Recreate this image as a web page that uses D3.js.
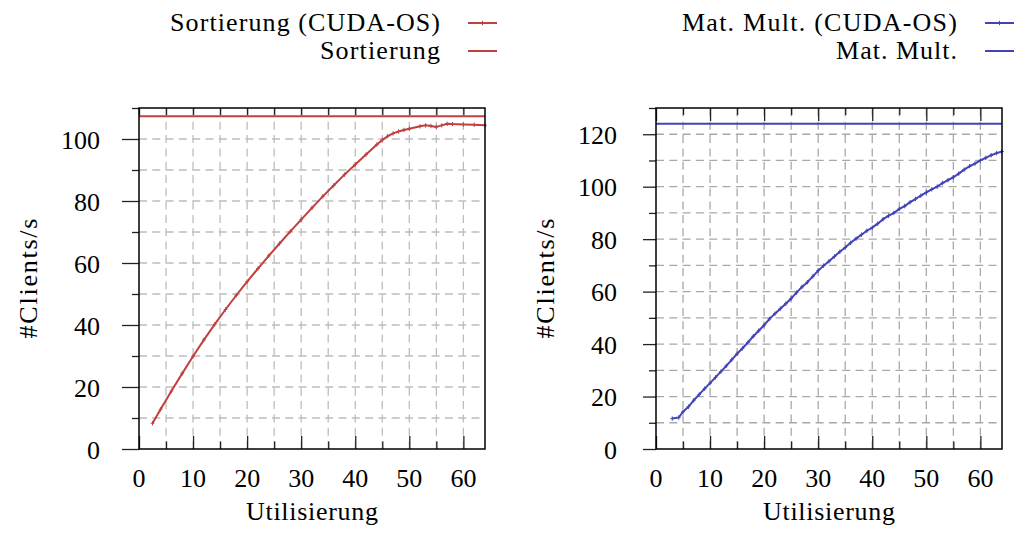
<!DOCTYPE html>
<html>
<head>
<meta charset="utf-8">
<script src="https://cdn.jsdelivr.net/npm/d3@7/dist/d3.min.js"></script>
<style>
  html, body { margin: 0; padding: 0; background: #fff; }
  svg { display: block; font-family: Liberation Serif; }
  svg text { font-family: Liberation Serif !important; }
</style>
</head>
<body>
<svg id="chart" width="1016" height="534" font-family="Liberation Serif"></svg>
<script>
// Sorting benchmark: utilisation vs. clients per second
const sortUtil = [2.5, 4, 6, 8, 10, 12, 14, 16, 18, 20, 22, 24, 26, 28, 30, 32, 34, 36, 38, 40,
                  42, 44, 45, 46, 47, 48, 49, 50, 52, 53, 54, 55, 56, 57, 58, 60, 62, 64];
const sortCudaOs = [8.3, 12.8, 18.7, 24.4, 29.9, 35.2, 40.2, 45.0, 49.6, 54.0, 58.2, 62.3, 66.3, 70.2, 74.0, 77.8, 81.5, 85.0, 88.5, 91.8,
                    95.0, 98.2, 99.7, 100.9, 101.8, 102.4, 102.9, 103.3, 104.1, 104.4, 104.2, 103.9, 104.4, 104.9, 104.8, 104.7, 104.6, 104.4];
const sortNative = 107.3;

// Matrix multiplication benchmark
const matUtil = [3, 4.2, 5, 6, 7, 8, 9, 10, 11, 12, 13, 14, 15, 16, 17, 18, 19, 20, 21, 22, 23, 24, 25, 26, 27, 28, 29, 30,
                 31, 32, 33, 34, 35, 36, 37, 38, 39, 40, 41, 42, 43, 44, 45, 46, 47, 48, 49, 50, 51, 52, 53, 54, 55, 56,
                 57, 58, 59, 60, 61, 62, 63, 64];
const matCudaOs = [11.6, 12.0, 14.2, 16.1, 18.6, 20.8, 23.0, 25.1, 27.3, 29.5, 31.7, 34.0, 36.3, 38.4, 40.6, 43.0, 45.1, 47.2, 49.6, 51.6,
                   53.5, 55.4, 57.4, 59.6, 61.8, 63.6, 65.8, 68.0, 69.9, 71.6, 73.4, 75.2, 76.8, 78.6, 80.2, 81.7, 83.2, 84.4,
                   85.9, 87.6, 88.9, 90.0, 91.5, 92.6, 94.1, 95.3, 96.6, 97.8, 99.0, 100.0, 101.4, 102.5, 103.6, 105.0,
                   106.5, 107.8, 108.8, 110.0, 111.0, 112.0, 112.8, 113.4];
const matNative = 124;

// Axis ticks
const xTicks = [0, 10, 20, 30, 40, 50, 60];
const xMinorTicks = [5, 15, 25, 35, 45, 55];
const sortYTicks = [0, 20, 40, 60, 80, 100];
const matYTicks = [0, 20, 40, 60, 80, 100, 120];

const seriesLabels = {
  sortOs: "Sortierung (CUDA-OS)", sort: "Sortierung",
  matOs: "Mat. Mult. (CUDA-OS)", mat: "Mat. Mult."
};

const svg = d3.select("#chart");
const FONT = 26;
const FAMILY = "Liberation Serif";

function styleText(sel) {
  return sel.attr("font-family", FAMILY).style("font-family", FAMILY)
    .attr("font-size", FONT).attr("fill", "#000");
}

function panel(cfg) {
  const x = d3.scaleLinear().domain([0, 64]).range([cfg.left, cfg.right]);
  const y = d3.scaleLinear().domain([0, cfg.yMax]).range([cfg.bottom, cfg.top]);
  const g = svg.append("g");

  // grid, dashed, every 5 on x and every 10 on y
  const yGrid = d3.range(10, cfg.yMax, 10);
  const xGrid = d3.range(5, 64, 5);
  g.append("g").selectAll("line").data(yGrid).join("line")
    .attr("x1", cfg.left).attr("x2", cfg.right)
    .attr("y1", d => y(d)).attr("y2", d => y(d))
    .attr("stroke", cfg.gridColor).attr("stroke-width", 1.3).attr("stroke-dasharray", "8,5.3");
  g.append("g").selectAll("line").data(xGrid).join("line")
    .attr("y1", cfg.bottom).attr("y2", cfg.top)
    .attr("x1", d => x(d)).attr("x2", d => x(d))
    .attr("stroke", cfg.gridColor).attr("stroke-width", 1.3).attr("stroke-dasharray", "8,5.3");

  // constant reference line (native run)
  g.append("line")
    .attr("x1", cfg.left).attr("x2", cfg.right)
    .attr("y1", y(cfg.native)).attr("y2", y(cfg.native))
    .attr("stroke", cfg.color).attr("stroke-width", 2);

  // CUDA-OS measurement
  const line = d3.line().x((d, i) => x(cfg.util[i])).y(d => y(d));
  g.append("path").datum(cfg.values)
    .attr("d", line).attr("fill", "none")
    .attr("stroke", cfg.color).attr("stroke-width", 2).attr("stroke-linejoin", "round");
  g.append("g").selectAll("path").data(cfg.values).join("path")
    .attr("transform", (d, i) => `translate(${x(cfg.util[i])},${y(d)})`)
    .attr("d", "M-1.8,0H1.8M0,-2.2V2.2")
    .attr("stroke", cfg.color).attr("stroke-width", 1);

  // tick marks: bottom inward, top mirrored inward, left outward
  const tickGroup = (axis, tx, ty) => g.append("g")
    .attr("transform", `translate(${tx},${ty})`)
    .call(axis)
    .call(a => a.select(".domain").remove())
    .call(a => a.selectAll("text").remove())
    .selectAll("line").attr("stroke", "#222").attr("stroke-width", 1.3);

  tickGroup(d3.axisBottom(x).tickValues(xTicks).tickSize(-13), 0, cfg.bottom);
  tickGroup(d3.axisBottom(x).tickValues(xMinorTicks).tickSize(-7.5), 0, cfg.bottom);
  tickGroup(d3.axisTop(x).tickValues(xTicks).tickSize(-cfg.topMajor), 0, cfg.top);
  tickGroup(d3.axisTop(x).tickValues(xMinorTicks).tickSize(-7), 0, cfg.top);
  tickGroup(d3.axisLeft(y).tickValues(cfg.yTicks).tickSize(cfg.yMajor), cfg.left, 0);
  tickGroup(d3.axisLeft(y).tickValues(d3.range(10, cfg.yMax + 1, 20)).tickSize(7), cfg.left, 0);

  // frame
  g.append("rect")
    .attr("x", cfg.left).attr("y", cfg.top)
    .attr("width", cfg.right - cfg.left).attr("height", cfg.bottom - cfg.top)
    .attr("fill", "none").attr("stroke", "#000").attr("stroke-width", 1.5);

  // tick labels
  g.append("g").selectAll("text").data(xTicks).join("text")
    .call(styleText)
    .attr("x", d => x(d)).attr("y", cfg.bottom + 37.5)
    .attr("text-anchor", "middle")
    .text(d => d);
  g.append("g").selectAll("text").data(cfg.yTicks).join("text")
    .call(styleText)
    .attr("x", cfg.left - 39).attr("y", d => y(d) + 9.5)
    .attr("text-anchor", "end")
    .text(d => d);

  // axis titles
  g.append("text").call(styleText)
    .attr("x", (cfg.left + cfg.right) / 2).attr("y", 520)
    .attr("text-anchor", "middle")
    .attr("textLength", 132).attr("lengthAdjust", "spacing")
    .text("Utilisierung");
  g.append("text").call(styleText)
    .attr("transform", `translate(${cfg.left - 102},${(cfg.top + cfg.bottom) / 2}) rotate(-90)`)
    .attr("text-anchor", "middle")
    .attr("textLength", 120).attr("lengthAdjust", "spacing")
    .text("#Clients/s");

  // legend
  const entries = [
    { text: cfg.labelOs, width: cfg.wOs, marker: true, ly: 23 },
    { text: cfg.label, width: cfg.w, marker: false, ly: 51 }
  ];
  entries.forEach(e => {
    g.append("text").call(styleText)
      .attr("x", cfg.right - 45).attr("y", e.ly + 8)
      .attr("text-anchor", "end")
      .attr("textLength", e.width).attr("lengthAdjust", "spacing")
      .text(e.text);
    g.append("line")
      .attr("x1", cfg.right - 17).attr("x2", cfg.right + 12)
      .attr("y1", e.ly).attr("y2", e.ly)
      .attr("stroke", cfg.color).attr("stroke-width", 2);
    if (e.marker) {
      g.append("path")
        .attr("transform", `translate(${cfg.right - 2.5},${e.ly})`)
        .attr("d", "M-1.8,0H1.8M0,-2.2V2.2")
        .attr("stroke", cfg.color).attr("stroke-width", 1);
    }
  });
}

panel({
  left: 139, right: 485, top: 108, bottom: 449, yMax: 110,
  util: sortUtil, values: sortCudaOs, native: sortNative, yTicks: sortYTicks,
  color: "#c0403f", gridColor: "#bdbdbd", yMajor: 17, topMajor: 7,
  labelOs: seriesLabels.sortOs, label: seriesLabels.sort, wOs: 270, w: 120
});
panel({
  left: 656, right: 1002, top: 108, bottom: 449, yMax: 130,
  util: matUtil, values: matCudaOs, native: matNative, yTicks: matYTicks,
  color: "#4343b8", gridColor: "#a8a8a8", yMajor: 13, topMajor: 13,
  labelOs: seriesLabels.matOs, label: seriesLabels.mat, wOs: 275, w: 121
});
</script>
</body>
</html>
